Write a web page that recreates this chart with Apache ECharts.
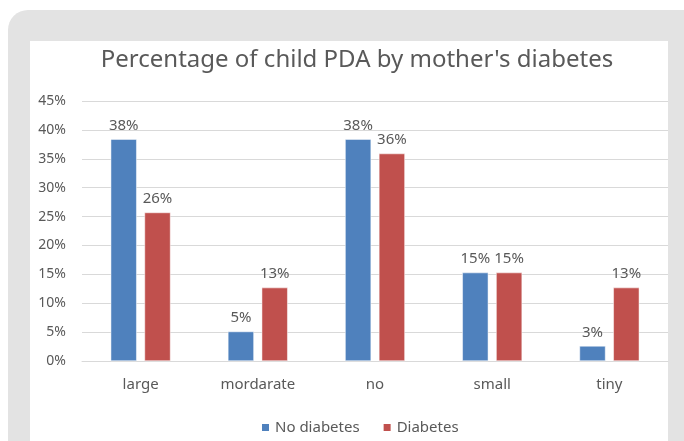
<!DOCTYPE html>
<html>
<head>
<meta charset="utf-8">
<script src="https://cdn.jsdelivr.net/npm/echarts@6/dist/echarts.min.js"></script>
<style>
html,body{margin:0;padding:0;background:#fff;}
#c{width:684px;height:441px;}
</style>
</head>
<body>
<div id="c"></div>
<script>
var categories = ['large', 'mordarate', 'no', 'small', 'tiny'];
var noDiabetes = [38.4, 5.1, 38.4, 15.3, 2.6];
var diabetes = [25.7, 12.7, 35.9, 15.3, 12.7];
var seriesNames = ['No diabetes', 'Diabetes'];
var yTicks = [0, 45, 5];

var font = 'Noto Sans';
var txt = '#595959';
var chart = echarts.init(document.getElementById('c'), null, {renderer: 'canvas'});
function lbl() {
  return {
    show: true, position: 'top', distance: 6, color: txt, fontFamily: font, fontSize: 15,
    formatter: function (p) { return Math.round(p.value) + '%'; }
  };
}
chart.setOption({
  animation: false,
  backgroundColor: '#ffffff',
  graphic: [
    {type: 'rect', z: -10, shape: {x: 8, y: 10, width: 720, height: 480, r: 20}, style: {fill: '#e3e3e3'}},
    {type: 'rect', z: -9, shape: {x: 30, y: 41, width: 638, height: 420}, style: {fill: '#ffffff'}}
  ],
  title: {
    text: "Percentage of child PDA by mother's diabetes",
    left: 352, top: 43, textAlign: 'center',
    textStyle: {fontFamily: font, fontSize: 24, fontWeight: 'normal', color: txt}
  },
  legend: {
    data: seriesNames, left: 255, top: 415,
    itemWidth: 9, itemHeight: 9, itemGap: 22, icon: 'rect',
    textStyle: {fontFamily: font, fontSize: 15, color: txt}
  },
  grid: {left: 82, right: 16, top: 101, bottom: 80, containLabel: false},
  xAxis: {
    type: 'category', data: categories,
    axisLine: {show: true, lineStyle: {color: '#d9d9d9'}},
    axisTick: {show: false},
    axisLabel: {color: txt, fontFamily: font, fontSize: 15, margin: 16}
  },
  yAxis: {
    type: 'value', min: yTicks[0], max: yTicks[1], interval: yTicks[2],
    axisLine: {show: false}, axisTick: {show: false},
    splitLine: {lineStyle: {color: '#d9d9d9'}},
    axisLabel: {color: txt, fontFamily: font, fontSize: 14, margin: 16, formatter: '{value}%'}
  },
  series: [
    {name: seriesNames[0], type: 'bar', data: noDiabetes, barWidth: 26, barGap: '30%',
     itemStyle: {color: '#4F81BD', borderColor: '#ffffff', borderWidth: 0.5}, label: lbl()},
    {name: seriesNames[1], type: 'bar', data: diabetes, barWidth: 26,
     itemStyle: {color: '#C0504D', borderColor: '#ffffff', borderWidth: 0.5}, label: lbl()}
  ]
});
</script>
</body>
</html>
